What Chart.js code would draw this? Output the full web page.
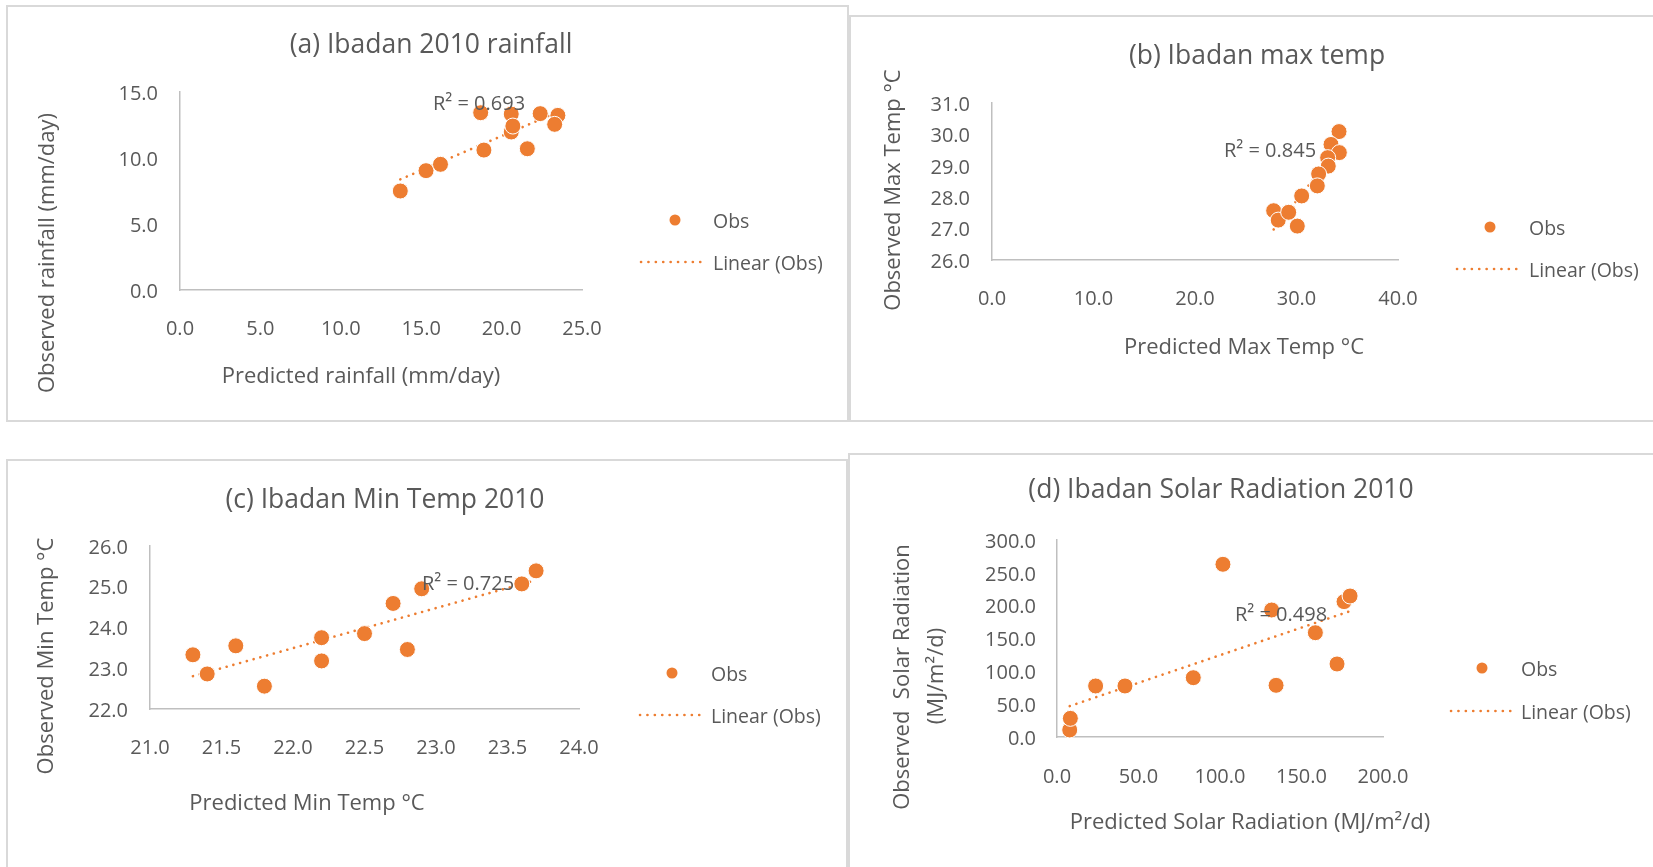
<!DOCTYPE html>
<html>
<head>
<meta charset="utf-8">
<script src="https://cdn.jsdelivr.net/npm/chart.js@4.4.1/dist/chart.umd.min.js"></script>
<style>
  html, body { margin: 0; padding: 0; background: #fff; width: 1653px; height: 867px; overflow: hidden; position: relative; }
  .frame { position: absolute; box-sizing: border-box; border: 2px solid #d9d9d9; }
  canvas { position: absolute; left: 0; top: 0; }
</style>
</head>
<body>
<div class="frame" style="left:6px;top:5px;width:843px;height:417px"></div>
<div class="frame" style="left:849px;top:15px;width:820px;height:407px"></div>
<div class="frame" style="left:6px;top:459px;width:842px;height:430px"></div>
<div class="frame" style="left:848px;top:453px;width:820px;height:440px"></div>
<canvas id="chartRain" width="1653" height="867"></canvas>
<canvas id="chartMaxTemp" width="1653" height="867"></canvas>
<canvas id="chartMinTemp" width="1653" height="867"></canvas>
<canvas id="chartSolar" width="1653" height="867"></canvas>
<script>
// Ibadan 2010: predicted (x) versus observed (y) monthly values

// (a) rainfall, mm/day
const rainPred = [13.7, 15.3, 16.2, 18.7, 18.9, 20.6, 20.6, 20.7, 21.6, 22.4, 23.5, 23.3];
const rainObs  = [7.5, 9.04, 9.52, 13.43, 10.6, 13.33, 11.97, 12.42, 10.7, 13.36, 13.23, 12.55];
const rainXTicks = [0, 5, 10, 15, 20, 25];
const rainYTicks = [0, 5, 10, 15];

// (b) maximum temperature, °C
const maxTempPred = [34.19, 33.4, 34.22, 33.07, 33.13, 32.18, 32.05, 30.51, 27.75, 28.2, 29.23, 30.08];
const maxTempObs  = [30.09, 29.68, 29.42, 29.26, 28.99, 28.74, 28.36, 28.04, 27.57, 27.27, 27.52, 27.08];
const maxTempXTicks = [0, 10, 20, 30, 40];
const maxTempYTicks = [26, 27, 28, 29, 30, 31];

// (c) minimum temperature, °C
const minTempPred = [21.3, 21.4, 21.6, 21.8, 22.2, 22.2, 22.5, 22.7, 22.8, 22.9, 23.6, 23.7];
const minTempObs  = [23.33, 22.86, 23.55, 22.56, 23.75, 23.18, 23.85, 24.59, 23.46, 24.95, 25.07, 25.39];
const minTempXTicks = [21, 21.5, 22, 22.5, 23, 23.5, 24];
const minTempYTicks = [22, 23, 24, 25, 26];

// (d) solar radiation, MJ/m²/d
const solarPred = [7.8, 8.2, 23.7, 41.7, 83.6, 101.8, 131.7, 134.4, 158.5, 171.8, 176.1, 179.8];
const solarObs  = [10.7, 28.4, 77.7, 77.7, 90.3, 263.0, 193.4, 78.7, 158.8, 111.2, 206.1, 214.7];
const solarXTicks = [0, 50, 100, 150, 200];
const solarYTicks = [0, 50, 100, 150, 200, 250, 300];

const ORANGE = '#ED7D31';
const TEXT = '#595959';
const AXIS = '#bfbfbf';
const FONT = '"Open Sans", "DejaVu Sans", sans-serif';
Chart.defaults.font.family = FONT;
Chart.defaults.color = TEXT;

// Least-squares line through the observations, spanning the predicted range
function linearFit(xs, ys) {
  const n = xs.length;
  const mx = xs.reduce((a, b) => a + b, 0) / n;
  const my = ys.reduce((a, b) => a + b, 0) / n;
  let sxy = 0, sxx = 0;
  for (let i = 0; i < n; i++) { sxy += (xs[i] - mx) * (ys[i] - my); sxx += (xs[i] - mx) ** 2; }
  const slope = sxy / sxx, icpt = my - slope * mx;
  const x0 = Math.min(...xs), x1 = Math.max(...xs);
  return [{ x: x0, y: icpt + slope * x0 }, { x: x1, y: icpt + slope * x1 }];
}

// Titles, axis titles, R² label and legend for one panel
const DROP = 2; // nudges text glyphs down from the em-box middle
const panelText = {
  id: 'panelText',
  afterDraw(chart, args, o) {
    const ctx = chart.ctx;
    ctx.save();
    ctx.fillStyle = TEXT;
    ctx.textBaseline = 'middle';

    ctx.textAlign = 'center';
    ctx.font = `26.5px ${FONT}`;
    ctx.fillText(o.title.text, o.title.x, o.title.y + DROP);

    ctx.font = `22px ${FONT}`;
    ctx.fillText(o.xTitle.text, o.xTitle.x, o.xTitle.y + DROP);
    o.yTitle.forEach(t => {
      ctx.save();
      ctx.translate(t.x, t.y);
      ctx.rotate(-Math.PI / 2);
      ctx.fillText(t.text, 0, DROP);
      ctx.restore();
    });

    ctx.textAlign = 'left';
    ctx.font = `20px ${FONT}`;
    ctx.fillText(o.r2.text, o.r2.x, o.r2.y + DROP);

    const lg = o.legend;
    ctx.font = `19.5px ${FONT}`;
    ctx.fillText('Obs', lg.textX, lg.markerY + DROP);
    ctx.fillText('Linear (Obs)', lg.textX, lg.lineY + DROP);
    ctx.fillStyle = ORANGE;
    ctx.beginPath();
    ctx.arc(lg.markerX, lg.markerY, 5.5, 0, Math.PI * 2);
    ctx.fill();
    ctx.strokeStyle = ORANGE;
    ctx.lineWidth = 2.6;
    ctx.lineCap = 'round';
    ctx.setLineDash([0.1, 7.3]);
    ctx.beginPath();
    ctx.moveTo(lg.lineX1, lg.lineY);
    ctx.lineTo(lg.lineX2, lg.lineY);
    ctx.stroke();
    ctx.restore();
  }
};

function axis(ticks, tickPadding, isX) {
  return {
    type: 'linear',
    position: isX ? 'bottom' : 'left',
    min: ticks[0],
    max: ticks[ticks.length - 1],
    afterBuildTicks: s => { s.ticks = ticks.map(v => ({ value: v })); },
    afterFit: s => { if (isX) s.height = 70; else s.width = 90; },
    grid: { display: false, drawTicks: false },
    border: { display: true, color: AXIS, width: 1.5 },
    ticks: {
      padding: tickPadding,
      labelOffset: isX ? 0 : DROP,
      autoSkip: false,
      maxRotation: 0,
      color: TEXT,
      font: { size: 20, family: FONT },
      callback: v => Number(v).toFixed(1)
    }
  };
}

function panel(id, xs, ys, xTicks, yTicks, area, text, xPad, yPad) {
  return new Chart(document.getElementById(id), {
    type: 'scatter',
    data: {
      datasets: [
        {
          label: 'Obs',
          data: xs.map((x, i) => ({ x, y: ys[i] })),
          backgroundColor: ORANGE,
          borderColor: '#ffffff',
          borderWidth: 1,
          pointRadius: 8,
          pointHoverRadius: 8,
          clip: false,
          order: 1
        },
        {
          label: 'Linear (Obs)',
          type: 'line',
          data: linearFit(xs, ys),
          showLine: true,
          borderColor: ORANGE,
          borderWidth: 2.6,
          borderDash: [0.1, 6.9],
          borderCapStyle: 'round',
          pointRadius: 0,
          fill: false,
          clip: false,
          order: 2
        }
      ]
    },
    options: {
      responsive: false,
      animation: false,
      events: [],
      layout: {
        padding: {
          left: area.left - 90,
          top: area.top,
          right: 1653 - area.right,
          bottom: 867 - area.bottom - 70
        }
      },
      plugins: {
        legend: { display: false },
        tooltip: { enabled: false },
        title: { display: false },
        panelText: text
      },
      scales: {
        x: axis(xTicks, xPad, true),
        y: axis(yTicks, yPad, false)
      }
    },
    plugins: [panelText]
  });
}

panel('chartRain', rainPred, rainObs, rainXTicks, rainYTicks,
  { left: 180, right: 582, top: 92, bottom: 290 },
  {
    title: { text: '(a) Ibadan 2010 rainfall', x: 431, y: 43 },
    xTitle: { text: 'Predicted rainfall (mm/day)', x: 361, y: 375 },
    yTitle: [{ text: 'Observed rainfall (mm/day)', x: 46, y: 253 }],
    r2: { text: 'R² = 0.693', x: 433, y: 102 },
    legend: { markerX: 675, markerY: 220, textX: 713, lineX1: 641, lineX2: 702, lineY: 262 }
  }, 27, 22);

panel('chartMaxTemp', maxTempPred, maxTempObs, maxTempXTicks, maxTempYTicks,
  { left: 992, right: 1398, top: 103, bottom: 260 },
  {
    title: { text: '(b) Ibadan max temp', x: 1257, y: 54 },
    xTitle: { text: 'Predicted Max Temp °C', x: 1244, y: 346 },
    yTitle: [{ text: 'Observed Max Temp °C', x: 892, y: 190 }],
    r2: { text: 'R² = 0.845', x: 1224, y: 149 },
    legend: { markerX: 1490, markerY: 227, textX: 1529, lineX1: 1457, lineX2: 1518, lineY: 269 }
  }, 27, 22);

panel('chartMinTemp', minTempPred, minTempObs, minTempXTicks, minTempYTicks,
  { left: 150, right: 579, top: 546, bottom: 709 },
  {
    title: { text: '(c) Ibadan Min Temp 2010', x: 385, y: 498 },
    xTitle: { text: 'Predicted Min Temp °C', x: 307, y: 802 },
    yTitle: [{ text: 'Observed Min Temp °C', x: 45, y: 656 }],
    r2: { text: 'R² = 0.725', x: 422, y: 582 },
    legend: { markerX: 672, markerY: 673, textX: 711, lineX1: 640, lineX2: 700, lineY: 715 }
  }, 27, 22);

panel('chartSolar', solarPred, solarObs, solarXTicks, solarYTicks,
  { left: 1057, right: 1383, top: 540, bottom: 737 },
  {
    title: { text: '(d) Ibadan Solar Radiation 2010', x: 1221, y: 488 },
    xTitle: { text: 'Predicted Solar Radiation (MJ/m²/d)', x: 1250, y: 821 },
    yTitle: [
      { text: 'Observed  Solar Radiation', x: 901, y: 677 },
      { text: '(MJ/m²/d)', x: 935, y: 676 }
    ],
    r2: { text: 'R² = 0.498', x: 1235, y: 613 },
    legend: { markerX: 1482, markerY: 668, textX: 1521, lineX1: 1451, lineX2: 1511, lineY: 711 }
  }, 28, 21);
</script>
</body>
</html>
